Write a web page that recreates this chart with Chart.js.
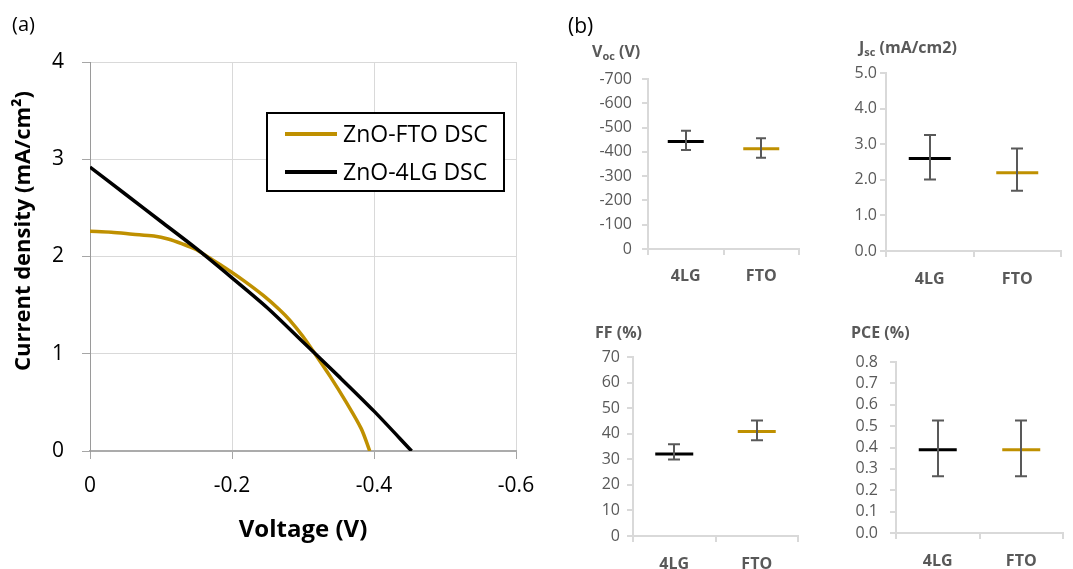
<!DOCTYPE html>
<html>
<head>
<meta charset="utf-8">
<title>ZnO DSC J-V and cell parameters</title>
<script src="https://cdn.jsdelivr.net/npm/chart.js@4.4.1/dist/chart.umd.min.js"></script>
<style>
  html, body { margin: 0; padding: 0; background: #fff; overflow: hidden; }
  #wrap { position: relative; width: 1073px; height: 569px; overflow: hidden; background: #fff; }
  #wrap canvas { position: absolute; }
</style>
</head>
<body>
<div id="wrap">
  <canvas id="jv" width="560" height="569" style="left:0px;top:0px"></canvas>
  <canvas id="voc" width="260" height="290" style="left:560px;top:0px"></canvas>
  <canvas id="jsc" width="265" height="290" style="left:820px;top:0px"></canvas>
  <canvas id="ff" width="260" height="279" style="left:560px;top:290px"></canvas>
  <canvas id="pce" width="265" height="279" style="left:820px;top:290px"></canvas>
</div>
<script>
// (a) J-V curves
const seriesNames = ['ZnO-FTO DSC', 'ZnO-4LG DSC'];
const ftoVoltage = [0, -0.03, -0.06, -0.09, -0.11, -0.13, -0.15, -0.165, -0.19, -0.216, -0.244, -0.267, -0.281, -0.30, -0.314, -0.338, -0.361, -0.382, -0.394];
const ftoCurrent = [2.26, 2.25, 2.23, 2.21, 2.18, 2.13, 2.07, 2.00, 1.885, 1.755, 1.60, 1.453, 1.348, 1.177, 1.03, 0.77, 0.50, 0.23, 0];
const lgVoltage = [0, -0.05, -0.10, -0.15, -0.20, -0.25, -0.30, -0.35, -0.40, -0.453];
const lgCurrent = [2.92, 2.64, 2.36, 2.08, 1.78, 1.47, 1.12, 0.77, 0.41, 0];

// (b) cell parameters, mean with error bar extents
const cells = ['4LG', 'FTO'];
const vocMean = [-443, -413];
const vocErrPlus = [35, 37];
const vocErrMinus = [44, 43];
const jscMean = [2.6, 2.2];
const jscErrPlus = [0.66, 0.68];
const jscErrMinus = [0.59, 0.51];
const ffMean = [32.1, 40.9];
const ffErrPlus = [3.8, 4.3];
const ffErrMinus = [2.2, 3.5];
const pceMean = [0.39, 0.39];
const pceErrPlus = [0.136, 0.136];
const pceErrMinus = [0.125, 0.125];

const GOLD = '#BF9000';
const GREY = '#595959';
const FONT = "'Open Sans', sans-serif";

Chart.defaults.font.family = FONT;
Chart.defaults.animation = false;

const pairs = (xs, ys) => xs.map((x, i) => ({ x: x, y: ys[i] }));

// free text: labels, titles, subscripts
const notes = {
  id: 'notes',
  afterDraw(chart, args, opts) {
    const ctx = chart.ctx;
    (opts.items || []).forEach(it => {
      ctx.save();
      ctx.fillStyle = it.color || '#000';
      ctx.textBaseline = it.baseline || 'alphabetic';
      ctx.translate(it.x, it.y);
      if (it.rotate) ctx.rotate(it.rotate);
      if (it.parts) {
        let x = 0;
        it.parts.forEach(p => {
          ctx.font = p.font;
          ctx.textAlign = 'left';
          ctx.fillText(p.text, x, p.dy || 0);
          x += ctx.measureText(p.text).width;
        });
      } else {
        ctx.font = it.font;
        ctx.textAlign = it.align || 'left';
        ctx.fillText(it.text, 0, 0);
      }
      ctx.restore();
    });
  }
};

// boxed legend sitting inside the plot
const boxLegend = {
  id: 'boxLegend',
  afterDraw(chart, args, o) {
    if (!o.w) return;
    const ctx = chart.ctx;
    ctx.save();
    ctx.fillStyle = '#fff';
    ctx.fillRect(o.x, o.y, o.w, o.h);
    ctx.strokeStyle = '#000';
    ctx.lineWidth = 2;
    ctx.strokeRect(o.x, o.y, o.w, o.h);
    chart.data.datasets.forEach((ds, i) => {
      const y = o.y + o.first + i * o.gap;
      ctx.strokeStyle = ds.borderColor;
      ctx.lineWidth = 4;
      ctx.beginPath();
      ctx.moveTo(o.x + 18, y);
      ctx.lineTo(o.x + 70, y);
      ctx.stroke();
      ctx.fillStyle = '#000';
      ctx.font = o.font;
      ctx.textBaseline = 'middle';
      ctx.fillText(ds.label, o.x + 76, y + 1);
    });
    ctx.restore();
  }
};

// vertical error bars with caps
const errorBars = {
  id: 'errorBars',
  afterDatasetsDraw(chart, args, o) {
    if (!o.mean) return;
    const ctx = chart.ctx, xs = chart.scales.x, ys = chart.scales.y;
    ctx.save();
    ctx.strokeStyle = GREY;
    ctx.lineWidth = 2;
    o.mean.forEach((m, i) => {
      const x = Math.round(xs.getPixelForValue(i));
      const top = ys.getPixelForValue(m + o.plus[i]);
      const bot = ys.getPixelForValue(m - o.minus[i]);
      ctx.beginPath();
      ctx.moveTo(x, top); ctx.lineTo(x, bot);
      ctx.moveTo(x - o.cap, top); ctx.lineTo(x + o.cap, top);
      ctx.moveTo(x - o.cap, bot); ctx.lineTo(x + o.cap, bot);
      ctx.stroke();
    });
    ctx.restore();
  }
};

// J-V plot
new Chart(document.getElementById('jv'), {
  type: 'scatter',
  data: {
    datasets: [
      { label: seriesNames[0], data: pairs(ftoVoltage, ftoCurrent), showLine: true, borderColor: GOLD, borderWidth: 3.5, pointRadius: 0, tension: 0.3, order: 1 },
      { label: seriesNames[1], data: pairs(lgVoltage, lgCurrent), showLine: true, borderColor: '#000', borderWidth: 3.5, pointRadius: 0, tension: 0.3, order: 0 }
    ]
  },
  options: {
    responsive: false,
    layout: { padding: { top: 62, right: 44, left: 0, bottom: 0 } },
    scales: {
      x: {
        type: 'linear', min: -0.6, max: 0, reverse: true,
        afterFit: s => { s.height = 118; },
        grid: { color: '#D9D9D9', tickColor: '#A6A6A6', tickLength: 8 },
        border: { color: '#ABABAB', width: 2 },
        ticks: { stepSize: 0.2, padding: 14, color: '#000', font: { size: 21 },
          callback: v => String(Math.round(v * 10) / 10) }
      },
      y: {
        min: 0, max: 4,
        afterFit: s => { s.width = 90; },
        grid: { color: '#D9D9D9', tickColor: '#A6A6A6', tickLength: 8 },
        border: { color: '#9A9A9A', width: 1 },
        ticks: { stepSize: 1, padding: 18, color: '#000', font: { size: 21 } }
      }
    },
    plugins: {
      legend: { display: false },
      tooltip: { enabled: false },
      boxLegend: { x: 267, y: 113, w: 237, h: 78, first: 21, gap: 38, font: "23px " + FONT },
      notes: { items: [
        { text: '(a)', x: 12, y: 31, font: "20px " + FONT },
        { text: 'Current density (mA/cm²)', x: 24, y: 231, rotate: -Math.PI / 2, align: 'center', baseline: 'middle', font: "bold 22px " + FONT },
        { text: 'Voltage (V)', x: 303, y: 537, align: 'center', font: "bold 24px " + FONT }
      ] }
    }
  },
  plugins: [notes, boxLegend]
});

// one small parameter panel
function panel(id, p) {
  return new Chart(document.getElementById(id), {
    type: 'line',
    data: {
      labels: cells,
      datasets: [{
        data: p.mean, showLine: false,
        pointStyle: 'line', pointRadius: p.radius, pointHoverRadius: p.radius,
        pointBorderWidth: 3, pointBorderColor: ['#000', GOLD], pointBackgroundColor: ['#000', GOLD]
      }]
    },
    options: {
      responsive: false,
      layout: { padding: { top: p.top, right: p.right, left: 0, bottom: 0 } },
      scales: {
        x: {
          offset: true,
          afterFit: s => { s.height = p.xh; },
          grid: { offset: true, drawOnChartArea: false, color: '#D9D9D9', tickLength: 6, lineWidth: 2 },
          border: { color: '#D9D9D9', width: 2 },
          ticks: { padding: p.xpad, color: GREY, font: { size: 16, weight: 'bold' } }
        },
        y: {
          min: p.min, max: p.max, reverse: !!p.reverse,
          afterFit: s => { s.width = p.yw; },
          grid: { drawOnChartArea: false, color: '#D9D9D9', tickLength: 6, lineWidth: 2 },
          border: { color: '#D9D9D9', width: 2 },
          ticks: { stepSize: p.step, autoSkip: false, padding: p.ypad, color: GREY, font: { size: 16 },
            callback: v => v.toFixed(p.dec) }
        }
      },
      plugins: {
        legend: { display: false },
        tooltip: { enabled: false },
        errorBars: { mean: p.mean, plus: p.plus, minus: p.minus, cap: p.cap },
        notes: { items: p.notes }
      }
    },
    plugins: [errorBars, notes]
  });
}

const TB = "bold 16px " + FONT;
const SUB = "bold 11px " + FONT;

panel('voc', {
  mean: vocMean, plus: vocErrPlus, minus: vocErrMinus,
  min: -700, max: 0, step: 100, dec: 0, reverse: true,
  top: 79, right: 7, yw: 88, xh: 41, ypad: 10, xpad: 12, radius: 18, cap: 5,
  notes: [
    { text: '(b)', x: 8, y: 33, font: "21px " + FONT },
    { x: 32, y: 57, color: GREY, parts: [
      { text: 'V', font: TB }, { text: 'oc', font: SUB, dy: 3 }, { text: ' (V)', font: TB }
    ] }
  ]
});

panel('jsc', {
  mean: jscMean, plus: jscErrPlus, minus: jscErrMinus,
  min: 0, max: 5, step: 1, dec: 1,
  top: 73, right: 5, yw: 66, xh: 39, ypad: 3, xpad: 13, radius: 21, cap: 6,
  notes: [
    { x: 39, y: 53, color: GREY, parts: [
      { text: 'J', font: TB }, { text: 'sc', font: SUB, dy: 3 }, { text: ' (mA/cm2)', font: TB }
    ] }
  ]
});

panel('ff', {
  mean: ffMean, plus: ffErrPlus, minus: ffErrMinus,
  min: 0, max: 70, step: 10, dec: 0,
  top: 67, right: 8, yw: 73, xh: 33, ypad: 7, xpad: 13, radius: 19, cap: 6,
  notes: [
    { text: 'FF (%)', x: 35, y: 48, color: GREY, font: TB }
  ]
});

panel('pce', {
  mean: pceMean, plus: pceErrPlus, minus: pceErrMinus,
  min: 0, max: 0.8, step: 0.1, dec: 1,
  top: 72, right: 12, yw: 76, xh: 36, ypad: 12, xpad: 13, radius: 19, cap: 6,
  notes: [
    { text: 'PCE (%)', x: 31, y: 48, color: GREY, font: TB }
  ]
});
</script>
</body>
</html>
